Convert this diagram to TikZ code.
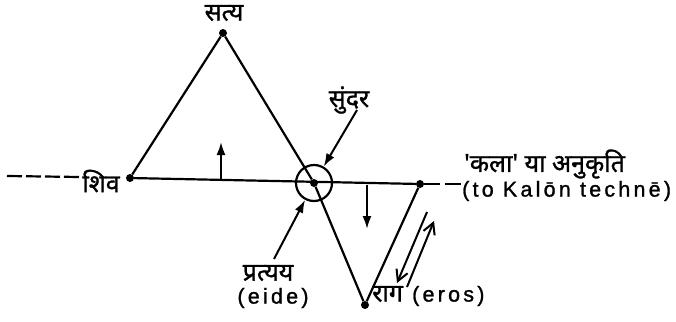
\documentclass[tikz,border=0pt]{standalone}
\usepackage{fontspec}
\setmainfont{Liberation Sans}[LetterSpace=15,FakeBold=1.2]
\newfontfamily\deva[Script=Devanagari,FakeBold=1.2]{Noto Sans}
\usetikzlibrary{arrows.meta}
\tikzset{
 ln/.style={line width=2.2pt},
 dotn/.style={circle,fill,inner sep=0pt,minimum size=8pt},
 arr/.style={line width=2pt,-{Latex[length=13pt,width=9pt]}},
 barb/.style={line width=2pt,-{Straight Barb[length=11pt,width=12pt]}},
 dv/.style={font=\deva\fontsize{25}{28}\selectfont,inner sep=0pt},
 lt/.style={font=\fontsize{21.5}{24}\selectfont,inner sep=0pt},
}
\begin{document}
\begin{tikzpicture}[x=1pt,y=-1pt]
\useasboundingbox (0,0) rectangle (676,321);
% points
\node[dotn] (satya) at (223,33) {};
\node[dotn] (shiv) at (130,178) {};
\node[dotn] (rdot) at (420,184) {};
\node[dotn] (raag) at (365,305) {};
\node[dotn] (cen) at (314,183) {};
\node[circle,draw,ln,minimum size=36pt,inner sep=0pt] (c) at (314,183) {};
% labels
\node[dv] (tsatya) at (224,13) {सत्य};
\node[dv] (tshiv) at (101,181) {शिव};
\node[dv] (tsundar) at (349,100) {सुंदर};
\node[dv,anchor=west] (tkala) at (464,164) {'कला' या अनुकृति};
\node[lt,anchor=west] (tto) at (462,191) {(to Kalōn technē)};
\node[dv] (tprat) at (268,273) {प्रत्यय};
\node[lt] (teide) at (273,298) {(eide)};
\node[lt,anchor=west] (traag) at (372,296) {{\deva\fontsize{25}{28}\selectfont राग} (eros)};
% main lines
\draw[ln] (shiv) -- (satya) -- (cen) -- (raag) -- (rdot);
\draw[ln] (shiv) -- (rdot);
\coordinate (rend) at (462,184);
\draw[ln,dash pattern=on 16pt off 5pt] (rdot) -- (rend);
\coordinate (lstart) at (7,176);
\coordinate (lend) at (80,177);
\draw[ln,dash pattern=on 15pt off 4pt] (lstart) -- (lend);
% arrows
\coordinate (ua0) at (221,180);
\coordinate (ua1) at (221,142);
\draw[arr] (ua0) -- (ua1);
\coordinate (da0) at (367,185);
\coordinate (da1) at (367,229);
\draw[arr] (da0) -- (da1);
\coordinate (s0) at (357,110);
\draw[arr] (s0) -- (c);
\coordinate (p0) at (274,259);
\draw[arr] (p0) -- (c);
\coordinate (d0) at (427,212);
\coordinate (d1) at (397,283);
\draw[barb] (d0) -- (d1);
\coordinate (u0) at (407,287);
\coordinate (u1) at (434,221);
\draw[barb] (u0) -- (u1);
\end{tikzpicture}
\end{document}
